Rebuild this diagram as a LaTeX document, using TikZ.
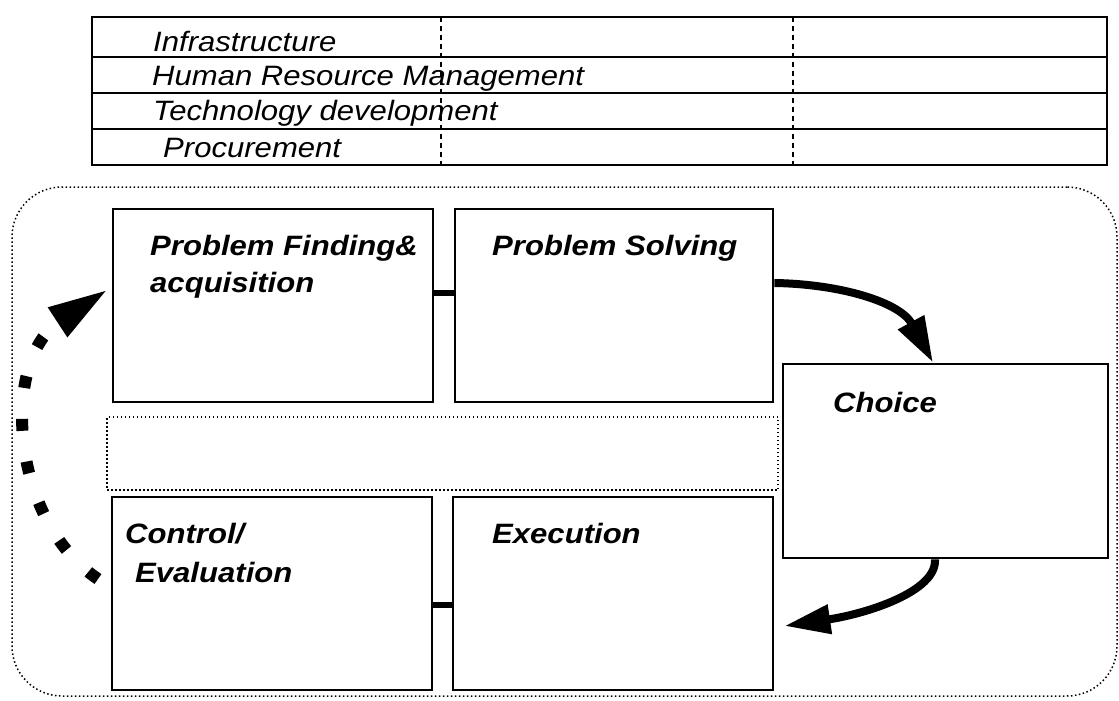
\documentclass[tikz,border=0pt]{standalone}
\usepackage{fontspec}
\usepackage{graphicx}
\setmainfont{Liberation Sans}
\usetikzlibrary{arrows.meta}
\tikzset{
  tabtxt/.style={anchor=base west, inner sep=0pt, font=\fontsize{28}{34}\selectfont\itshape},
  boxtxt/.style={anchor=base west, inner sep=0pt, font=\fontsize{28}{34}\selectfont\bfseries\itshape},
  stagebox/.style={draw, line width=2.8pt, rectangle, inner sep=0pt, minimum width=320pt, minimum height=193pt},
  tabrow/.style={draw, line width=2.6pt, rectangle, inner sep=0pt, minimum width=1015pt},
  bigarrow/.style={line width=8pt, -{Triangle[length=46pt,width=28pt]}},
  linkbar/.style={line width=6pt},
}
\newcommand{\sx}[1]{\scalebox{1.11}[1]{#1}}
\begin{document}
\begin{tikzpicture}[x=1pt,y=-1pt]
\useasboundingbox (0,0) rectangle (1119,701);
% top table
\node[tabrow, minimum height=40pt] (r1) at (599.5,37) {};
\node[tabrow, minimum height=36pt] (r2) at (599.5,75) {};
\node[tabrow, minimum height=36pt] (r3) at (599.5,111) {};
\node[tabrow, minimum height=36pt] (r4) at (599.5,147) {};
\draw[line width=1.1pt, dash pattern=on 5pt off 4pt] (441,17) -- (441,165);
\draw[line width=1.1pt, dash pattern=on 5pt off 4pt] (793,17) -- (793,165);
\node[tabtxt] (t1) at (153,52) {\sx{Infrastructure}};
\node[tabtxt] (t2) at (152,85) {\sx{Human Resource Management}};
\node[tabtxt] (t3) at (153,121) {\sx{Technology development}};
\node[tabtxt] (t4) at (163,157) {\sx{Procurement}};
% outer dotted frame
\node[draw, line width=1.5pt, dash pattern=on 1.5pt off 2.5pt, rounded corners=50pt, inner sep=0pt,
      minimum width=1105pt, minimum height=509pt] (frame) at (564.5,441.5) {};
% middle dotted band
\node[draw, line width=1.1pt, dash pattern=on 1.5pt off 2.5pt, inner sep=0pt,
      minimum width=671pt, minimum height=73pt] (band) at (442.5,453.5) {};
% stage boxes
\node[stagebox] (pf) at (273,305.5) {};
\node[stagebox, minimum width=318pt] (ps) at (614,305.5) {};
\node[stagebox] (ce) at (272,593.5) {};
\node[stagebox] (ex) at (613,593.5) {};
\node[stagebox, minimum width=325pt, minimum height=194pt] (ch) at (945.5,461) {};
% texts
\node[boxtxt] (pf1) at (150,255) {\sx{Problem Finding\&}};
\node[boxtxt] (pf2) at (150,292) {\sx{acquisition}};
\node[boxtxt] (pst) at (492,255) {\sx{Problem Solving}};
\node[boxtxt] (cht) at (833,412) {\sx{Choice}};
\node[boxtxt] (ce1) at (125,543) {\sx{Control/}};
\node[boxtxt] (ce2) at (135,582) {\sx{Evaluation}};
\node[boxtxt] (ext) at (492,543) {\sx{Execution}};
% links
\draw[linkbar] ([yshift=12.5pt]pf.east) -- ([yshift=12.5pt]ps.west);
\draw[linkbar] ([yshift=-11.5pt]ce.east) -- ([yshift=-11.5pt]ex.west);
% arrows
\draw[bigarrow] ([yshift=22.5pt]ps.east) .. controls (840,284) and (900,302) .. ([xshift=-12.5pt]ch.north);
\draw[bigarrow] ([xshift=-10.5pt]ch.south) .. controls (937,592) and (865,614) .. ([xshift=10pt,yshift=-32.5pt]ex.east);
% dotted feedback arrow
\coordinate (ds) at (98,579);
\draw[line width=12pt, dash pattern=on 12pt off 31pt, -{Triangle[length=61pt,width=32pt]}]
  (ds) .. controls (10,520) and (0,360) .. ([xshift=-3pt,yshift=16.5pt]pf.west);
\end{tikzpicture}
\end{document}
